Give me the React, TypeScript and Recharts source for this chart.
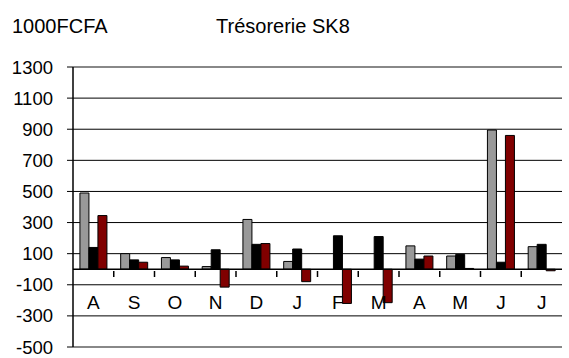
import { BarChart, Bar, XAxis, YAxis, CartesianGrid, ReferenceLine } from 'recharts';

const months = ['A', 'S', 'O', 'N', 'D', 'J', 'F', 'M', 'A', 'M', 'J', 'J'];
const grey = [490, 100, 75, 17, 320, 50, 0, 0, 150, 85, 895, 145];
const black = [140, 60, 60, 125, 160, 130, 215, 210, 65, 95, 45, 160];
const red = [345, 45, 20, -115, 165, -80, -220, -215, 85, 5, 860, -10];
const yTicks = [-500, -300, -100, 100, 300, 500, 700, 900, 1100, 1300];

const data = months.map((m, i) => ({
  key: `m${i}`,
  month: m,
  grey: grey[i],
  black: black[i],
  red: red[i],
}));

const font = '"Liberation Sans", Arial, sans-serif';

// month letters sit under the zero line, with a small tick at each category boundary
const MonthTick = (props: any) => {
  const { x, y, index, payload } = props;
  const half = payload && payload.offset ? payload.offset : 20.4;
  const zeroY = y - 84;
  return (
    <g>
      {index < months.length - 1 && (
        <line x1={x + half} x2={x + half} y1={zeroY} y2={zeroY + 6} stroke="#000" strokeWidth={1.5} />
      )}
      <text x={x} y={y} dy={-46} textAnchor="middle" fill="#000" fontSize={19} fontFamily={font}>
        {months[index]}
      </text>
    </g>
  );
};

const ValueTick = (props: any) => {
  const { x, y, payload } = props;
  return (
    <text x={x - 12} y={y} dy={6.5} textAnchor="end" fill="#000" fontSize={18.5} fontFamily={font}>
      {payload.value}
    </text>
  );
};

export default function App() {
  return (
    <div style={{ position: 'absolute', left: 0, top: 0, width: 569, height: 358, background: '#fff' }}>
      <div style={{ position: 'absolute', left: 12, top: 17, fontFamily: font, fontSize: 20, lineHeight: '19px' }}>1000FCFA</div>
      <div style={{ position: 'absolute', left: 216, top: 17, fontFamily: font, fontSize: 20, lineHeight: '19px' }}>Trésorerie SK8</div>
      <BarChart
        width={569}
        height={358}
        data={data}
        margin={{ top: 67, right: 7, left: 0, bottom: 10 }}
        barGap={0}
        barCategoryGap="17%"
      >
        <CartesianGrid stroke="#000" vertical={false} />
        <XAxis
          dataKey="key"
          height={1}
          axisLine={false}
          tickLine={false}
          tick={<MonthTick />}
          interval={0}
        />
        <YAxis
          width={73}
          domain={[-500, 1300]}
          ticks={yTicks}
          interval={0}
          axisLine={{ stroke: '#000', strokeWidth: 1.5 }}
          tickLine={{ stroke: '#000' }}
          tickSize={6}
          tick={<ValueTick />}
        />
        <YAxis
          yAxisId="right"
          orientation="right"
          width={0}
          domain={[-500, 1300]}
          axisLine={{ stroke: '#888', strokeWidth: 2 }}
          tick={false}
          tickLine={false}
        />
        <ReferenceLine y={1300} stroke="#888" strokeWidth={2} />
        <ReferenceLine y={-500} stroke="#888" strokeWidth={2} />
        <Bar dataKey="grey" fill="#999999" stroke="#000" strokeWidth={1} isAnimationActive={false} />
        <Bar dataKey="black" fill="#000000" stroke="#000" strokeWidth={1} isAnimationActive={false} />
        <Bar dataKey="red" fill="#800000" stroke="#000" strokeWidth={1} isAnimationActive={false} />
        <ReferenceLine y={0} stroke="#000" strokeWidth={1.5} />
      </BarChart>
    </div>
  );
}
